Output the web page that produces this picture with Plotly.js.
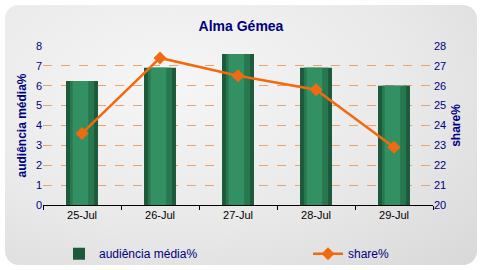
<!DOCTYPE html>
<html><head><meta charset="utf-8">
<script src="https://cdn.plot.ly/plotly-3.0.1.min.js"></script>
<style>
html,body{margin:0;padding:0;background:#fff;}
#wrap{position:absolute;left:5px;top:5px;width:472px;height:260px;border-radius:14px;
background:radial-gradient(ellipse at 35% 30%, #f6f6f6 0%, #e9e9e9 55%, #d8d8d8 100%);}
#chart{position:absolute;left:0;top:0;width:482px;height:270px;}
</style></head>
<body>
<div id="wrap"></div>
<div id="chart"></div>
<script>
const categories = ['25-Jul','26-Jul','27-Jul','28-Jul','29-Jul'];
const audiencia = [6.24, 6.9, 7.6, 6.9, 6.0];
const share = [23.6, 27.4, 26.5, 25.8, 22.9];
const leftTicks = [0,1,2,3,4,5,6,7,8];
const rightTicks = [20,21,22,23,24,25,26,27,28];

const navy = '#000080';
const traces = [
  {type:'bar', x:categories, y:audiencia, name:'audiência média%', width:0.41,
   legend:'legend', marker:{color:'#1d5a3c', line:{width:0}}},
  {type:'bar', x:categories, y:audiencia, name:'audiência média%', width:0.31, showlegend:false,
   marker:{color:'#28784f', line:{width:0}}},
  {type:'bar', x:categories, y:audiencia, name:'audiência média%', width:0.2, offset:-0.12, showlegend:false,
   marker:{color:'#339063', line:{width:0}}},
  {type:'scatter', mode:'lines+markers', x:categories, y:share, name:'share%', yaxis:'y2',
   legend:'legend2',
   line:{color:'#f26a10', width:2.5}, marker:{symbol:'diamond', size:10, color:'#f26a10'}}
];
const legBase = {orientation:'h', xref:'container', yref:'container', y:0.06,
  xanchor:'left', yanchor:'middle', font:{size:12, color:navy}, bgcolor:'rgba(0,0,0,0)'};
const layout = {
  width:482, height:270,
  margin:{l:43, r:49, t:46, b:65},
  barmode:'overlay',
  paper_bgcolor:'rgba(0,0,0,0)', plot_bgcolor:'rgba(0,0,0,0)',
  font:{family:'Liberation Sans, Arial, sans-serif', size:11, color:navy},
  title:{text:'<b>Alma Gémea</b>', x:0.5, xanchor:'center', y:0.905, yanchor:'middle',
         font:{size:14, color:navy}},
  showlegend:true,
  legend:Object.assign({}, legBase, {x:59/482}),
  legend2:Object.assign({}, legBase, {x:308/482}),
  xaxis:{type:'category', tickson:'boundaries', ticks:'outside', ticklen:4, tickcolor:'#000',
         showline:true, linecolor:'#000', linewidth:1, showgrid:false,
         tickfont:{color:'#000', size:11}},
  yaxis:{range:[0,8], tickvals:leftTicks, ticktext:leftTicks.map(String), showgrid:true,
         gridcolor:'#eba36b', griddash:'dash', gridwidth:1, zeroline:false, showline:false,
         ticks:'', tickfont:{size:11, color:navy},
         title:{text:'<b>audiência média%</b>', font:{size:12, color:navy}, standoff:6}},
  yaxis2:{range:[20,28], tickvals:rightTicks, overlaying:'y', side:'right', showgrid:false,
          zeroline:false, showline:false, ticks:'', tickfont:{size:11, color:navy},
          title:{text:'<b>share%</b>', font:{size:12, color:navy}, standoff:6}}
};
Plotly.newPlot('chart', traces, layout, {displayModeBar:false, staticPlot:true});
</script>
</body></html>
